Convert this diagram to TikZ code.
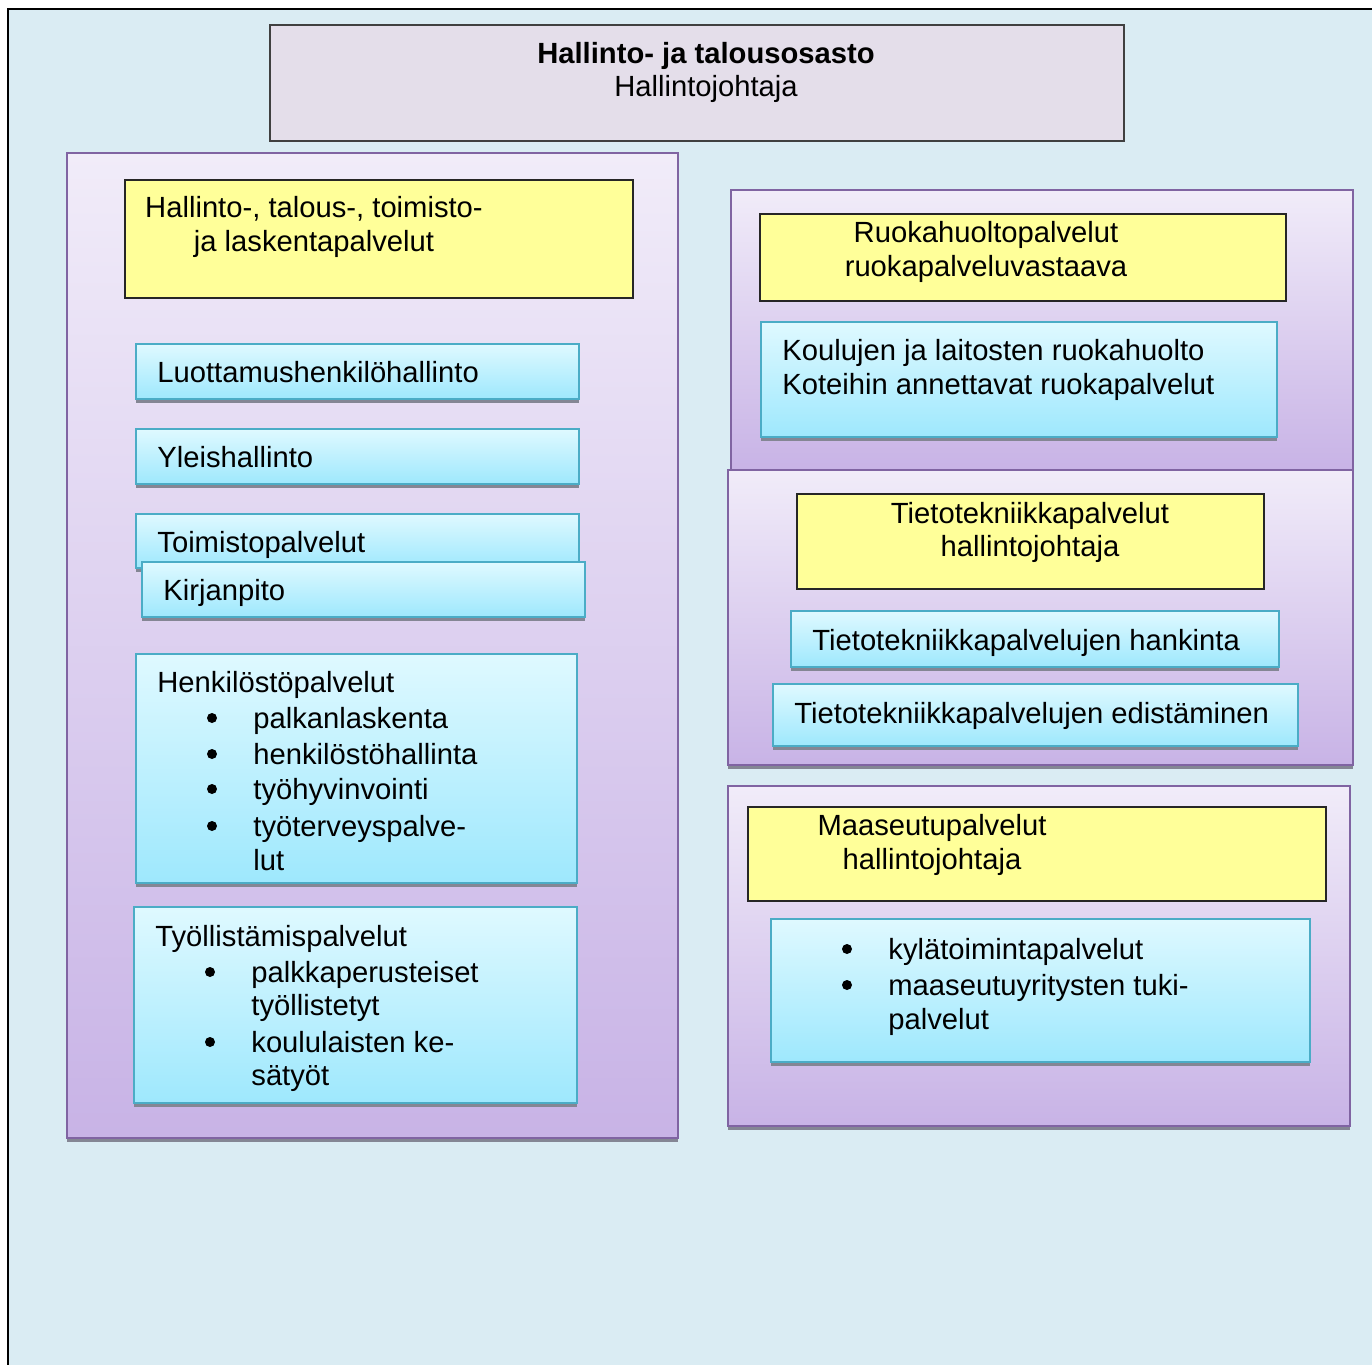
\documentclass[tikz,border=0pt]{standalone}
\usepackage{fontspec}
\setmainfont{Liberation Sans}
\definecolor{outerbg}{RGB}{218,236,243}
\definecolor{topfill}{RGB}{228,222,234}
\definecolor{grpTop}{RGB}{241,236,249}
\definecolor{grpBot}{RGB}{200,179,230}
\definecolor{grpLine}{RGB}{128,100,162}
\definecolor{bluTop}{RGB}{223,249,255}
\definecolor{bluBot}{RGB}{158,232,253}
\definecolor{bluLine}{RGB}{75,172,198}
\definecolor{yelFill}{RGB}{255,255,153}
\definecolor{shCol}{RGB}{132,134,148}
\newcommand\myfs{\fontsize{14.6}{17.75}\selectfont}
\newcommand\grpbox[4]{%
  \fill[shCol] (#1,{#2+4}) rectangle (#3,{#4+4});
  \shade[top color=grpTop,bottom color=grpBot] (#1,#2) rectangle (#3,#4);
  \draw[grpLine,line width=1pt] (#1,#2) rectangle (#3,#4);}
\newcommand\blubox[4]{%
  \fill[shCol] (#1,{#2+4}) rectangle (#3,{#4+4});
  \shade[top color=bluTop,bottom color=bluBot] (#1,#2) rectangle (#3,#4);
  \draw[bluLine,line width=1pt] (#1,#2) rectangle (#3,#4);}
\newcommand\yelbox[4]{%
  \fill[yelFill] (#1,#2) rectangle (#3,#4);
  \draw[black!85,line width=0.75pt] (#1,#2) rectangle (#3,#4);}
\begin{document}
\begin{tikzpicture}[x=0.5pt,y=-0.5pt,
  txt/.style={inner sep=0pt,anchor=base west,font=\myfs},
  ctxt/.style={inner sep=0pt,anchor=base,font=\myfs},
  bul/.style={fill=black}]
\useasboundingbox (0,0) rectangle (1372,1365);
% outer frame
\fill[white] (0,0) rectangle (1372,1365);
\fill[outerbg] (8,9) rectangle (1390,1390);
\draw[black,line width=1pt] (8,1390) -- (8,9) -- (1390,9);
% top box
\fill[topfill] (270,25) rectangle (1124,141);
\draw[black!75,line width=0.75pt] (270,25) rectangle (1124,141);
\node[ctxt,font=\myfs\bfseries] (t1) at (706,63) {Hallinto- ja talousosasto};
\node[ctxt] (t2) at (706,97) {Hallintojohtaja};

% ===== left group =====
\grpbox{67}{153}{678}{1138}
\yelbox{125}{180}{633}{298}
\node[ctxt] (l1) at (314,217) {Hallinto-, talous-, toimisto-};
\node[ctxt] (l2) at (314,251) {ja laskentapalvelut};

\blubox{136}{344}{579}{399}
\node[txt] (luo) at (157,382) {Luottamushenkilöhallinto};
\blubox{136}{429}{579}{484}
\node[txt] (yle) at (157,467) {Yleishallinto};
\blubox{136}{514}{579}{568}
\node[txt] (toi) at (157,552) {Toimistopalvelut};
\blubox{142}{562}{585}{617}
\node[txt] (kir) at (163,600) {Kirjanpito};

\blubox{136}{654}{577}{883}
\node[txt] (hen) at (157,692) {Henkilöstöpalvelut};
\foreach \yy in {718,754,789,826} {\fill (212,\yy) circle (5);}
\node[txt] (h1) at (253,728) {palkanlaskenta};
\node[txt] (h2) at (253,764) {henkilöstöhallinta};
\node[txt] (h3) at (253,799) {työhyvinvointi};
\node[txt] (h4) at (253,836) {työterveyspalve-};
\node[txt] (h5) at (253,870) {lut};

\blubox{134}{907}{577}{1103}
\node[txt] (tyo) at (155,946) {Työllistämispalvelut};
\foreach \yy in {972,1042} {\fill (210,\yy) circle (5);}
\node[txt] (w1) at (251,982) {palkkaperusteiset};
\node[txt] (w2) at (251,1015) {työllistetyt};
\node[txt] (w3) at (251,1052) {koululaisten ke-};
\node[txt] (w4) at (251,1085) {sätyöt};

% ===== right group 1 : ruokahuolto =====
\grpbox{731}{190}{1353}{470}
\yelbox{760}{214}{1286}{301}
\node[ctxt] (r1) at (986,242) {Ruokahuoltopalvelut};
\node[ctxt] (r2) at (986,276) {ruokapalveluvastaava};
\blubox{761}{322}{1277}{437}
\node[txt] (r3) at (782,360) {Koulujen ja laitosten ruokahuolto};
\node[txt] (r4) at (782,394) {Koteihin annettavat ruokapalvelut};

% ===== right group 2 : tietotekniikka =====
\grpbox{728}{470}{1353}{765}
\yelbox{797}{494}{1264}{589}
\node[ctxt] (k1) at (1030,523) {Tietotekniikkapalvelut};
\node[ctxt] (k2) at (1030,556) {hallintojohtaja};
\blubox{791}{611}{1279}{667}
\node[txt] (k3) at (812,650) {Tietotekniikkapalvelujen hankinta};
\blubox{773}{684}{1298}{746}
\node[txt] (k4) at (794,723) {Tietotekniikkapalvelujen edistäminen};

% ===== right group 3 : maaseutu =====
\grpbox{728}{786}{1350}{1126}
\yelbox{748}{807}{1326}{901}
\node[ctxt] (m1) at (932,835) {Maaseutupalvelut};
\node[ctxt] (m2) at (932,869) {hallintojohtaja};
\blubox{771}{919}{1310}{1062}
\foreach \yy in {949,985} {\fill (847,\yy) circle (5);}
\node[txt] (m3) at (888,959) {kylätoimintapalvelut};
\node[txt] (m4) at (888,995) {maaseutuyritysten tuki-};
\node[txt] (m5) at (888,1029) {palvelut};
\end{tikzpicture}
\end{document}
